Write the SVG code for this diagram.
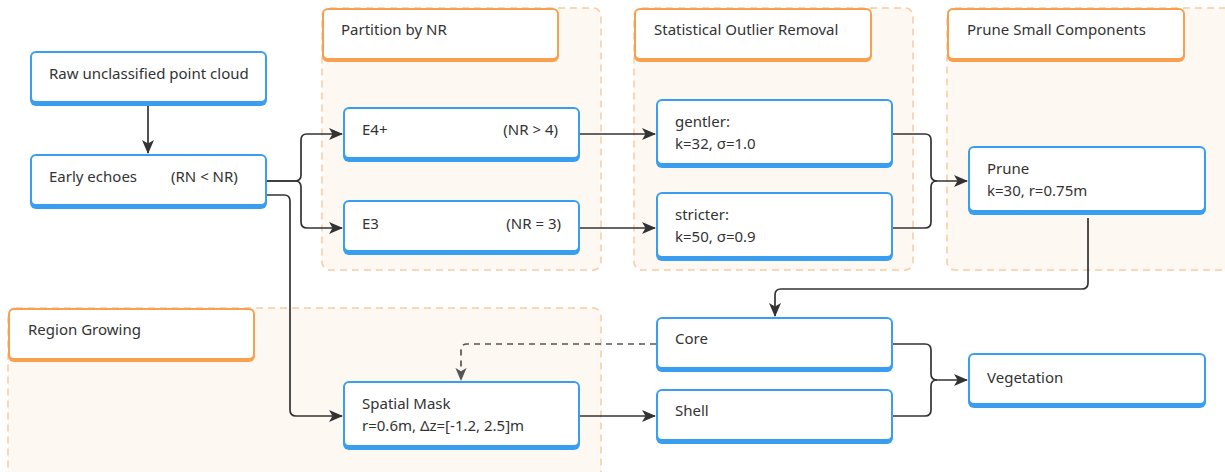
<svg xmlns="http://www.w3.org/2000/svg" width="1225" height="472" viewBox="0 0 1225 472">
  <defs>
    <style>
      .lbl { font-family: "Noto Sans", "Open Sans", sans-serif; font-size: 15px; fill: #333; }
      .grp { fill: #fdf8f2; stroke: #f8cba4; stroke-width: 1.5; stroke-dasharray: 7 5; }
      .hdr-o { fill: #f9a050; }
      .nd-o { fill: #3a9ef0; }
      .nd-i { fill: #ffffff; }
      .edge { fill: none; stroke: #333; stroke-width: 1.7; }
      .dash { fill: none; stroke: #555; stroke-width: 1.7; stroke-dasharray: 6 5; }
    </style>
    <marker id="arr" viewBox="0 0 14 14" refX="13" refY="7" markerWidth="14" markerHeight="14" markerUnits="userSpaceOnUse" orient="auto">
      <path d="M0,1 L14,7 L0,13 L3.5,7 Z" fill="#333"/>
    </marker>
    <marker id="arrd" viewBox="0 0 14 14" refX="13" refY="7" markerWidth="13" markerHeight="13" markerUnits="userSpaceOnUse" orient="auto">
      <path d="M0,1 L14,7 L0,13 L3.5,7 Z" fill="#555"/>
    </marker>
  </defs>
  <rect width="1225" height="472" fill="#ffffff"/>

  <!-- group containers -->
  <g id="grp-partition">
    <rect class="grp" x="322" y="8" width="279" height="262" rx="8"/>
    <rect class="hdr-o" x="322" y="8" width="237" height="54" rx="6"/>
    <rect class="nd-i" x="324" y="10" width="233" height="48" rx="4"/>
    <text class="lbl" x="341" y="35">Partition by NR</text>
  </g>
  <g id="grp-sor">
    <rect class="grp" x="634" y="8" width="279" height="262" rx="8"/>
    <rect class="hdr-o" x="634" y="8" width="238" height="54" rx="6"/>
    <rect class="nd-i" x="636" y="10" width="234" height="48" rx="4"/>
    <text class="lbl" x="654" y="35">Statistical Outlier Removal</text>
  </g>
  <g id="grp-prune">
    <rect class="grp" x="947" y="8" width="290" height="262" rx="8"/>
    <rect class="hdr-o" x="947" y="8" width="238" height="54" rx="6"/>
    <rect class="nd-i" x="949" y="10" width="234" height="48" rx="4"/>
    <text class="lbl" x="967" y="35">Prune Small Components</text>
  </g>
  <g id="grp-region">
    <rect class="grp" x="8" y="308" width="593" height="180" rx="8"/>
    <rect class="hdr-o" x="8" y="308" width="247" height="54" rx="6"/>
    <rect class="nd-i" x="10" y="310" width="243" height="48" rx="4"/>
    <text class="lbl" x="28" y="335">Region Growing</text>
  </g>

  <!-- connectors -->
  <g id="connectors">
    <path class="edge" d="M148,106 L148,153" marker-end="url(#arr)"/>
    <path class="edge" d="M267,181 L295,181 Q301,181 301,175 L301,140 Q301,134 307,134 L342,134" marker-end="url(#arr)"/>
    <path class="edge" d="M267,181 L295,181 Q301,181 301,187 L301,222 Q301,228 307,228 L342,228" marker-end="url(#arr)"/>
    <path class="edge" d="M267,195 L284,195 Q290,195 290,201 L290,410 Q290,416 296,416 L342,416" marker-end="url(#arr)"/>
    <path class="edge" d="M580,134 L655,134" marker-end="url(#arr)"/>
    <path class="edge" d="M580,228 L655,228" marker-end="url(#arr)"/>
    <path class="edge" d="M893,134 L925,134 Q931,134 931,140 L931,175 Q931,181 937,181 L967,181" marker-end="url(#arr)"/>
    <path class="edge" d="M893,228 L925,228 Q931,228 931,222 L931,187 Q931,181 937,181"/>
    <path class="edge" d="M1088,218 L1088,283 Q1088,289 1082,289 L781,289 Q775,289 775,295 L775,316" marker-end="url(#arr)"/>
    <path class="dash" d="M656,344 L467,344 Q461,344 461,350 L461,380" marker-end="url(#arrd)"/>
    <path class="edge" d="M580,416 L655,416" marker-end="url(#arr)"/>
    <path class="edge" d="M893,344 L925,344 Q931,344 931,350 L931,374 Q931,380 937,380 L967,380" marker-end="url(#arr)"/>
    <path class="edge" d="M893,416 L925,416 Q931,416 931,410 L931,386 Q931,380 937,380"/>
  </g>

  <!-- nodes -->
  <g id="n-raw">
    <rect class="nd-o" x="30" y="51" width="237" height="55" rx="6"/>
    <rect class="nd-i" x="32" y="53" width="233" height="48" rx="4"/>
    <text class="lbl" x="49" y="79">Raw unclassified point cloud</text>
  </g>
  <g id="n-early">
    <rect class="nd-o" x="30" y="154" width="237" height="55" rx="6"/>
    <rect class="nd-i" x="32" y="156" width="233" height="48" rx="4"/>
    <text class="lbl" x="49" y="182">Early echoes</text>
    <text class="lbl" x="171" y="182">(RN &lt; NR)</text>
  </g>
  <g id="n-e4">
    <rect class="nd-o" x="343" y="107" width="237" height="55" rx="6"/>
    <rect class="nd-i" x="345" y="109" width="233" height="48" rx="4"/>
    <text class="lbl" x="362" y="135">E4+</text>
    <text class="lbl" x="558" y="135" text-anchor="end">(NR &gt; 4)</text>
  </g>
  <g id="n-e3">
    <rect class="nd-o" x="343" y="200" width="237" height="55" rx="6"/>
    <rect class="nd-i" x="345" y="202" width="233" height="48" rx="4"/>
    <text class="lbl" x="362" y="229">E3</text>
    <text class="lbl" x="561" y="229" text-anchor="end">(NR = 3)</text>
  </g>
  <g id="n-gentler">
    <rect class="nd-o" x="656" y="99" width="237" height="69" rx="6"/>
    <rect class="nd-i" x="658" y="101" width="233" height="62" rx="4"/>
    <text class="lbl" x="675" y="127">gentler:</text>
    <text class="lbl" x="675" y="149">k=32, σ=1.0</text>
  </g>
  <g id="n-stricter">
    <rect class="nd-o" x="656" y="192" width="237" height="69" rx="6"/>
    <rect class="nd-i" x="658" y="194" width="233" height="62" rx="4"/>
    <text class="lbl" x="675" y="220">stricter:</text>
    <text class="lbl" x="675" y="242">k=50, σ=0.9</text>
  </g>
  <g id="n-prune">
    <rect class="nd-o" x="968" y="146" width="238" height="69" rx="6"/>
    <rect class="nd-i" x="970" y="148" width="234" height="62" rx="4"/>
    <text class="lbl" x="987" y="174">Prune</text>
    <text class="lbl" x="987" y="196">k=30, r=0.75m</text>
  </g>
  <g id="n-mask">
    <rect class="nd-o" x="343" y="381" width="237" height="69" rx="6"/>
    <rect class="nd-i" x="345" y="383" width="233" height="62" rx="4"/>
    <text class="lbl" x="362" y="409">Spatial Mask</text>
    <text class="lbl" x="362" y="431">r=0.6m, Δz=[-1.2, 2.5]m</text>
  </g>
  <g id="n-core">
    <rect class="nd-o" x="656" y="317" width="237" height="55" rx="6"/>
    <rect class="nd-i" x="658" y="319" width="233" height="48" rx="4"/>
    <text class="lbl" x="675" y="344">Core</text>
  </g>
  <g id="n-shell">
    <rect class="nd-o" x="656" y="389" width="237" height="55" rx="6"/>
    <rect class="nd-i" x="658" y="391" width="233" height="48" rx="4"/>
    <text class="lbl" x="675" y="416">Shell</text>
  </g>
  <g id="n-veg">
    <rect class="nd-o" x="968" y="353" width="238" height="55" rx="6"/>
    <rect class="nd-i" x="970" y="355" width="234" height="48" rx="4"/>
    <text class="lbl" x="987" y="383">Vegetation</text>
  </g>
</svg>
